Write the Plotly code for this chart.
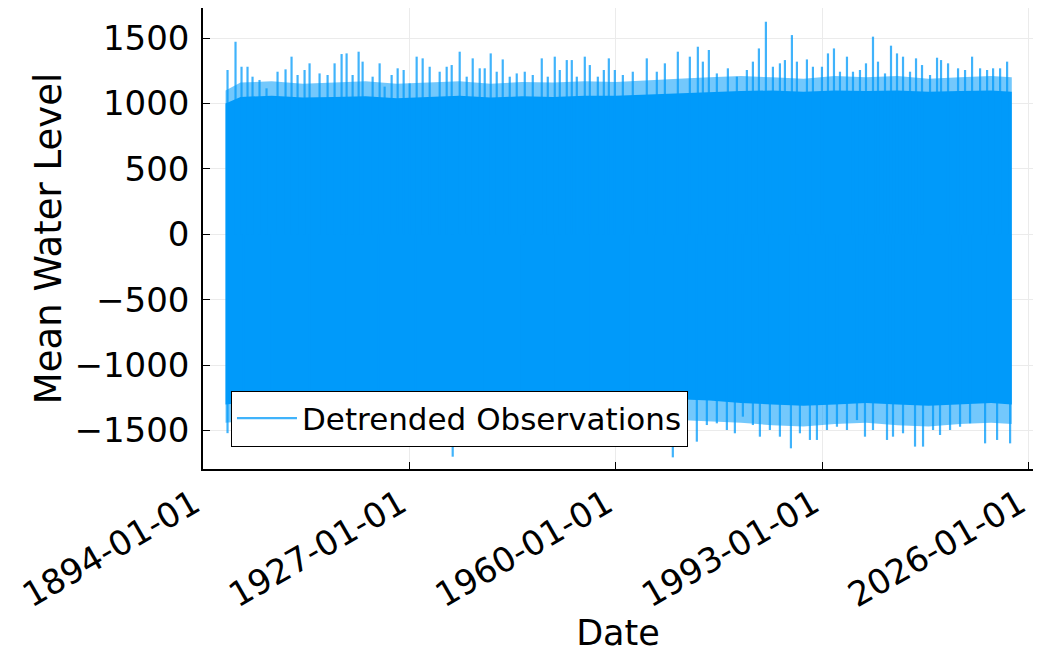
import pandas as pd
import plotly.graph_objects as go

# ---------------- data ----------------
# Body of the detrended series (solid core and lighter fringe), per epoch
BAND_YEARS = [1897.6, 1900, 1905, 1910, 1915, 1920, 1925, 1930, 1935, 1940, 1945, 1950, 1955, 1960,
              1965, 1970, 1975, 1980, 1985, 1990, 1995, 2000, 2005, 2010, 2015, 2020, 2023.3]
CORE_UPPER = [1000, 1050, 1060, 1045, 1050, 1055, 1040, 1050, 1060, 1045, 1055, 1050, 1060, 1060,
              1070, 1080, 1090, 1095, 1100, 1090, 1100, 1095, 1100, 1090, 1095, 1100, 1090]
FRINGE_UPPER = [1100, 1160, 1170, 1150, 1160, 1170, 1150, 1160, 1170, 1150, 1165, 1160, 1170, 1165,
                1180, 1190, 1200, 1210, 1200, 1190, 1210, 1200, 1210, 1190, 1200, 1210, 1200]
CORE_LOWER = [-1300, -1290, -1280, -1290, -1300, -1290, -1280, -1290, -1300, -1290, -1280, -1290, -1300, -1290,
              -1280, -1260, -1270, -1290, -1300, -1310, -1300, -1290, -1300, -1310, -1300, -1290, -1300]
FRINGE_LOWER = [-1440, -1430, -1420, -1430, -1440, -1430, -1420, -1430, -1440, -1430, -1420, -1430, -1440, -1430,
                -1420, -1420, -1430, -1440, -1460, -1470, -1450, -1440, -1460, -1470, -1450, -1440, -1450]

# Individual high-water spikes (decimal year, level)
PEAK_YEARS = [1897.92, 1899.20, 1900.16, 1901.12, 1901.92, 1903.04, 1904.16, 1905.92, 1907.20, 1908.16,
              1909.12, 1910.24, 1911.04, 1912.64, 1913.92, 1915.04, 1916.16, 1916.96, 1917.92, 1918.88,
              1919.52, 1921.12, 1922.24, 1923.04, 1924.16, 1925.12, 1926.08, 1927.04, 1928.16, 1929.12,
              1930.24, 1931.84, 1932.96, 1933.76, 1935.04, 1936.16, 1937.12, 1938.24, 1939.04, 1940.00,
              1940.96, 1941.92, 1943.04, 1944.16, 1945.44, 1946.72, 1948.16, 1949.12, 1950.24, 1951.04,
              1952.16, 1952.96, 1953.76, 1955.04, 1955.84, 1957.12, 1958.08, 1958.88, 1959.84, 1961.12,
              1962.71, 1964.95, 1966.55, 1967.84, 1969.91, 1971.83, 1973.11, 1973.91, 1974.87, 1976.15,
              1977.91, 1979.35, 1980.95, 1981.91, 1982.87, 1983.99, 1985.11, 1986.23, 1987.03, 1988.15,
              1988.95, 1990.55, 1991.51, 1992.95, 1993.91, 1994.87, 1995.83, 1996.95, 1997.91, 1999.03,
              1999.99, 2001.11, 2001.91, 2003.03, 2003.99, 2004.95, 2005.91, 2007.03, 2007.99, 2008.95,
              2010.23, 2011.35, 2011.99, 2013.11, 2014.71, 2015.83, 2016.95, 2018.23, 2019.35, 2020.31,
              2021.43, 2022.55]
PEAK_LEVELS = [1256, 1472, 1281, 1281, 1205, 1180, 1116, 1243, 1261, 1358,
               1218, 1256, 1307, 1230, 1218, 1307, 1378, 1383, 1218, 1396,
               1320, 1205, 1307, 1129, 1218, 1269, 1256, 1154, 1358, 1345,
               1281, 1243, 1281, 1294, 1396, 1205, 1345, 1269, 1269, 1383,
               1243, 1337, 1205, 1230, 1243, 1218, 1345, 1205, 1358, 1256,
               1332, 1332, 1205, 1358, 1294, 1205, 1256, 1345, 1256, 1218,
               1243, 1345, 1243, 1307, 1396, 1358, 1434, 1320, 1409, 1230,
               1269, 1205, 1256, 1320, 1421, 1625, 1281, 1307, 1332, 1523,
               1320, 1337, 1281, 1281, 1383, 1421, 1243, 1358, 1243, 1256,
               1307, 1511, 1320, 1230, 1442, 1383, 1358, 1243, 1345, 1294,
               1218, 1350, 1332, 1307, 1269, 1256, 1358, 1269, 1256, 1269,
               1269, 1320]

# Individual low-water spikes (decimal year, level)
TROUGH_YEARS = [1897.92, 1900.50, 1905.00, 1911.00, 1917.00, 1922.00, 1928.00, 1933.92, 1939.00, 1945.00,
                1950.00, 1956.00, 1962.00, 1966.00, 1969.11, 1971.35, 1972.95, 1974.55, 1976.15, 1977.75,
                1979.03, 1980.31, 1981.91, 1983.03, 1984.63, 1986.23, 1987.99, 1989.43, 1991.03, 1992.15,
                1993.75, 1995.35, 1996.95, 1998.55, 1999.83, 2001.11, 2003.35, 2004.31, 2005.91, 2007.83,
                2009.11, 2010.71, 2011.83, 2013.43, 2015.03, 2016.63, 2019.03, 2020.95, 2023.03]
TROUGH_LEVELS = [-1520, -1480, -1540, -1510, -1560, -1500, -1550, -1700, -1530, -1560,
                 -1520, -1570, -1540, -1600, -1705, -1471, -1585, -1458, -1445, -1496,
                 -1521, -1394, -1458, -1547, -1496, -1547, -1636, -1521, -1572, -1572,
                 -1496, -1471, -1496, -1420, -1547, -1496, -1572, -1547, -1521, -1623,
                 -1623, -1496, -1534, -1496, -1471, -1445, -1598, -1572, -1598]

X_TICKS = ["1894-01-01", "1927-01-01", "1960-01-01", "1993-01-01", "2026-01-01"]
Y_TICKS = [-1500, -1000, -500, 0, 500, 1000, 1500]

BLUE = "#009AFA"
FONT = "DejaVu Sans"


def to_date(y):
    base = pd.Timestamp(year=int(y), month=1, day=1)
    return base + pd.Timedelta(days=(y - int(y)) * 365.25)


band_dates = [to_date(y) for y in BAND_YEARS]

fig = go.Figure()

# lighter fringe band
fig.add_trace(go.Scatter(
    x=band_dates + band_dates[::-1],
    y=FRINGE_UPPER + FRINGE_LOWER[::-1],
    fill="toself", fillcolor="rgba(0,154,250,0.55)",
    line=dict(width=0), mode="lines", showlegend=False, hoverinfo="skip"))

# solid core band
fig.add_trace(go.Scatter(
    x=band_dates + band_dates[::-1],
    y=CORE_UPPER + CORE_LOWER[::-1],
    fill="toself", fillcolor=BLUE,
    line=dict(width=0), mode="lines", showlegend=False, hoverinfo="skip"))

# spikes
sx, sy = [], []
for yr, lv in list(zip(PEAK_YEARS, PEAK_LEVELS)) + list(zip(TROUGH_YEARS, TROUGH_LEVELS)):
    d = to_date(yr)
    sx += [d, d, None]
    sy += [0, lv, None]

fig.add_trace(go.Scatter(
    x=sx, y=sy, mode="lines", line=dict(color="rgba(0,154,250,0.75)", width=2.2),
    name="Detrended Observations", showlegend=True))

fig.update_layout(
    width=1049, height=645,
    margin=dict(l=195, r=24, t=0, b=184, autoexpand=False),
    paper_bgcolor="white", plot_bgcolor="white",
    font=dict(family=FONT, color="black"),
    showlegend=True,
    legend=dict(x=0.0337, y=0.0488, xanchor="left", yanchor="bottom",
                bgcolor="white", bordercolor="black", borderwidth=1,
                itemwidth=60,
                font=dict(size=31, family=FONT, color="black")),
    xaxis=dict(
        type="date", range=["1894-01-01", "2026-09-10"],
        tickmode="array", tickvals=X_TICKS, ticktext=X_TICKS,
        tickangle=-30, tickfont=dict(size=34, family=FONT, color="black"),
        ticks="inside", ticklen=7, tickcolor="black", tickwidth=1.2,
        ticklabelshift=-9,
        showline=True, linecolor="black", linewidth=1.5,
        showgrid=True, gridcolor="#ebebeb", gridwidth=1, zeroline=False,
        title=dict(text="Date", font=dict(size=35, family=FONT, color="black"), standoff=15),
        automargin=False),
    yaxis=dict(
        range=[-1794, 1730],
        tickmode="array", tickvals=Y_TICKS,
        ticktext=[str(v).replace("-", "\u2212") for v in Y_TICKS],
        tickfont=dict(size=34, family=FONT, color="black"),
        ticks="inside", ticklen=7, tickcolor="black", tickwidth=1.2,
        ticklabelstandoff=5,
        showline=True, linecolor="black", linewidth=1.5,
        showgrid=True, gridcolor="#ebebeb", gridwidth=1, zeroline=False,
        title=dict(text="Mean Water Level", font=dict(size=37, family=FONT, color="black"), standoff=1),
        automargin=False),
)

fig.write_html("out.html")
